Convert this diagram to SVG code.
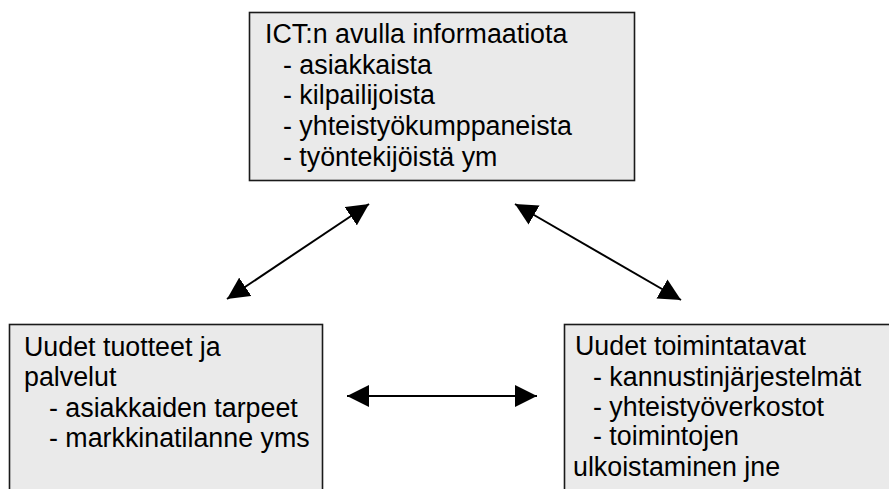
<svg xmlns="http://www.w3.org/2000/svg" width="889" height="489" viewBox="0 0 889 489">
<defs>
<marker id="ah" markerUnits="userSpaceOnUse" markerWidth="22" markerHeight="22" viewBox="0 0 20 20" refX="20" refY="10" orient="auto-start-reverse">
<path d="M0,0 L20,10 L0,20 Z" fill="#000"/>
</marker>
</defs>
<style>
.box{fill:#eaeaea;stroke:#1a1a1a;stroke-width:1.6}
.t{font-family:"Liberation Sans",Arial,sans-serif;font-size:26.8px;fill:#000}
.c{stroke:#000;stroke-width:2;fill:none;marker-start:url(#ah);marker-end:url(#ah)}
</style>
<g id="connectors">
<line class="c" x1="227" y1="299" x2="369" y2="204"/>
<line class="c" x1="515" y1="204" x2="681" y2="300"/>
<line class="c" x1="347" y1="396" x2="537" y2="396"/>
</g>
<g id="node-ict">
<rect class="box" x="249.5" y="12.5" width="385" height="168"/>
<text class="t" x="265" y="43">ICT:n avulla informaatiota</text>
<text class="t" x="283" y="74">- asiakkaista</text>
<text class="t" x="283" y="104">- kilpailijoista</text>
<text class="t" x="283" y="135">- yhteistyökumppaneista</text>
<text class="t" x="283" y="166">- työntekijöistä ym</text>
</g>
<g id="node-tuotteet">
<rect class="box" x="9.5" y="324.5" width="313" height="180"/>
<text class="t" x="24" y="356">Uudet tuotteet ja</text>
<text class="t" x="24" y="386">palvelut</text>
<text class="t" x="49" y="417">- asiakkaiden tarpeet</text>
<text class="t" x="49" y="447">- markkinatilanne yms</text>
</g>
<g id="node-toimintatavat">
<rect class="box" x="564.5" y="324.5" width="340" height="180"/>
<text class="t" x="575" y="355">Uudet toimintatavat</text>
<text class="t" x="593" y="386">- kannustinjärjestelmät</text>
<text class="t" x="593" y="416">- yhteistyöverkostot</text>
<text class="t" x="593" y="445">- toimintojen</text>
<text class="t" x="573" y="476">ulkoistaminen jne</text>
</g>
</svg>
